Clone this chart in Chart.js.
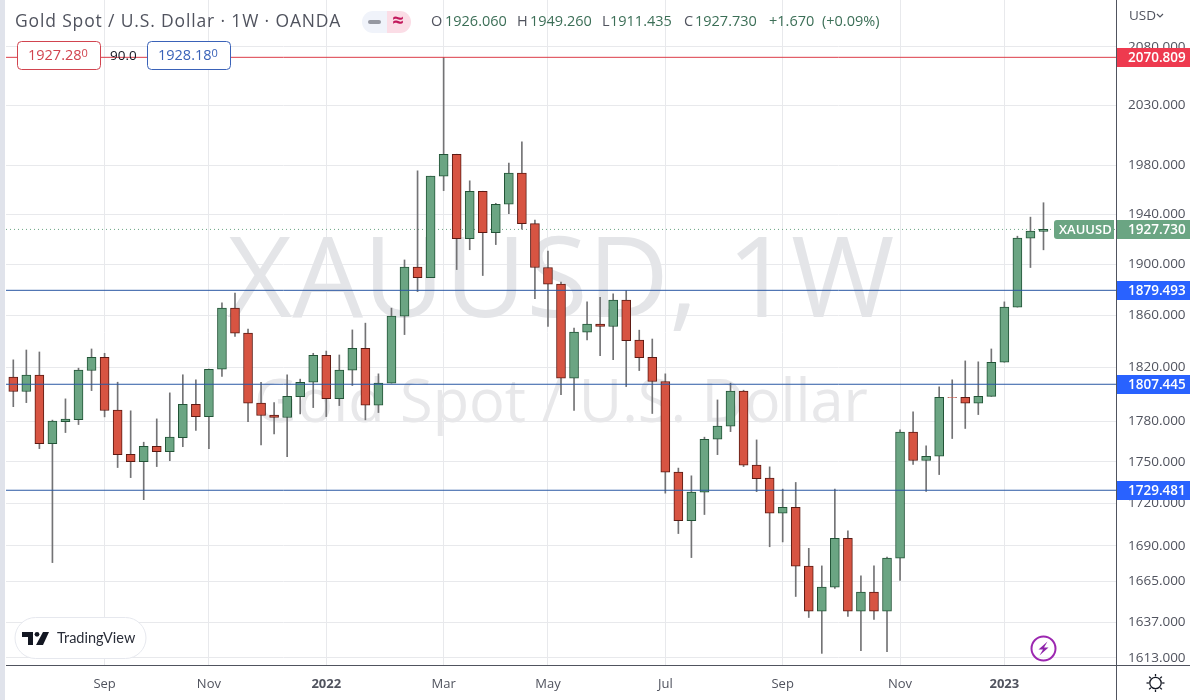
<!DOCTYPE html>
<html>
<head>
<meta charset="utf-8">
<title>Gold Spot / U.S. Dollar</title>
<script src="https://cdn.jsdelivr.net/npm/chart.js@4/dist/chart.umd.min.js"></script>
<style>
  html, body { margin: 0; padding: 0; background: #fff; }
  canvas { display: block; }
</style>
</head>
<body>
<canvas id="chart" width="1190" height="700"></canvas>
<script>
// weekly candles (last one is the printed OHLC)
const opens = [
  1812.8, 1802.0, 1814.3, 1763.4, 1779.6, 1781.1, 1817.8, 1827.9, 1788.1, 1755.6,
  1750.2, 1761.4, 1757.5, 1767.8, 1792.5, 1783.3, 1818.8, 1865.6, 1846.3, 1793.3,
  1784.4, 1782.6, 1798.2, 1809.0, 1829.4, 1796.7, 1818.1, 1834.7, 1791.8, 1808.3,
  1859.4, 1897.7, 1889.5, 1970.9, 1989.0, 1920.4, 1958.6, 1925.2, 1948.0, 1973.4,
  1932.4, 1897.4, 1884.3, 1812.1, 1847.1, 1853.2, 1851.4, 1871.8, 1840.9, 1827.9,
  1809.5, 1742.6, 1707.8, 1728.1, 1766.6, 1776.2, 1802.3, 1747.6, 1738.2, 1713.1,
  1717.3, 1675.7, 1644.6, 1661.2, 1695.3, 1644.7, 1657.7, 1644.7, 1681.3, 1771.8,
  1751.0, 1754.1, 1797.7, 1797.7, 1793.3, 1798.4, 1824.1, 1866.4, 1920.7, 1926.06
];
const highs = [
  1825.9, 1833.4, 1831.9, 1780.7, 1796.5, 1819.6, 1834.2, 1830.9, 1809.0, 1787.6,
  1764.4, 1781.6, 1801.0, 1814.6, 1810.8, 1819.0, 1869.7, 1877.3, 1849.4, 1809.0,
  1793.7, 1814.6, 1811.3, 1830.9, 1832.6, 1829.6, 1848.8, 1854.0, 1815.3, 1865.6,
  1903.4, 1975.3, 1970.9, 2070.809, 1989.0, 1967.1, 1958.6, 1948.8, 1981.6, 1999.2,
  1935.2, 1910.5, 1885.9, 1850.2, 1870.5, 1874.1, 1876.7, 1879.3, 1848.6, 1841.8,
  1815.3, 1745.5, 1739.9, 1768.1, 1795.7, 1808.3, 1803.0, 1766.1, 1746.4, 1730.3,
  1735.1, 1688.2, 1675.9, 1730.4, 1700.5, 1669.0, 1675.9, 1682.0, 1773.5, 1786.8,
  1761.7, 1805.5, 1810.8, 1825.1, 1824.4, 1834.2, 1870.5, 1922.3, 1937.6, 1949.26
];
const lows = [
  1790.7, 1793.7, 1759.7, 1678.2, 1771.5, 1777.4, 1802.7, 1783.1, 1745.9, 1738.6,
  1722.7, 1746.6, 1750.9, 1761.1, 1773.0, 1759.7, 1813.3, 1843.7, 1779.6, 1762.4,
  1770.5, 1753.8, 1785.3, 1790.0, 1783.3, 1791.5, 1806.5, 1780.9, 1786.3, 1808.3,
  1845.2, 1878.5, 1889.5, 1959.1, 1895.8, 1911.5, 1891.1, 1915.6, 1940.5, 1927.9,
  1873.0, 1851.4, 1799.7, 1787.8, 1841.1, 1829.1, 1826.1, 1805.7, 1817.8, 1785.6,
  1727.4, 1698.6, 1681.7, 1712.1, 1755.3, 1772.2, 1746.6, 1728.5, 1689.3, 1692.7,
  1654.7, 1640.3, 1616.0, 1660.2, 1641.0, 1617.8, 1639.0, 1617.2, 1665.8, 1748.1,
  1728.7, 1740.8, 1767.1, 1774.5, 1784.8, 1798.4, 1824.1, 1866.4, 1897.4, 1911.435
];
const closes = [
  1802.0, 1814.3, 1763.3, 1779.9, 1781.4, 1818.1, 1827.9, 1787.8, 1755.3, 1750.2,
  1761.4, 1757.5, 1768.1, 1792.5, 1783.3, 1818.8, 1865.6, 1846.3, 1793.3, 1784.1,
  1782.6, 1798.4, 1809.0, 1829.4, 1796.7, 1818.1, 1834.7, 1791.8, 1808.3, 1859.4,
  1897.7, 1889.5, 1970.9, 1989.0, 1920.4, 1958.6, 1925.2, 1948.0, 1973.4, 1932.4,
  1897.4, 1884.3, 1812.1, 1847.1, 1853.2, 1851.4, 1871.8, 1840.6, 1827.6, 1809.5,
  1742.6, 1707.8, 1728.1, 1766.6, 1776.2, 1802.3, 1747.6, 1737.9, 1713.1, 1717.3,
  1675.7, 1644.6, 1661.2, 1695.3, 1644.7, 1657.7, 1644.7, 1681.3, 1771.8, 1751.0,
  1754.1, 1797.7, 1797.5, 1793.3, 1798.4, 1824.1, 1866.4, 1920.7, 1926.3, 1927.73
];

const priceTicks = [2080, 2030, 1980, 1940, 1900, 1860, 1820, 1780, 1750, 1720, 1690, 1665, 1637, 1613];
const timeTickWeeks = [7, 15, 24, 33, 41, 50, 59, 68, 76];
const timeTickLabels = ['Sep', 'Nov', '2022', 'Mar', 'May', 'Jul', 'Sep', 'Nov', '2023'];

const blueLevels = [1879.493, 1807.445, 1729.481];
const redLevel = 2070.809;
const lastPrice = 1927.73;

const GREEN = '#6ba583', RED = '#d75442';
const GREEN_EDGE = '#225437', RED_EDGE = '#5b1a13';
const BLUE_LINE = '#2a58a4', RED_LINE = '#dc3c48';
const TAG_BLUE = '#2962ff', TAG_RED = '#ee3a4f';
const TEXT = '#50535e';
const FONT = '"Open Sans", sans-serif';

const xMin = -0.56, xMax = 84.56;
const isUp = opens.map((o, i) => closes[i] >= o);

function levelLine(value, color, dash) {
    return {
        type: 'line',
        data: [{ x: xMin, y: value }, { x: xMax, y: value }],
        borderColor: color,
        borderWidth: 1,
        borderDash: dash || [],
        pointRadius: 0,
        order: dash ? 5 : 1
    };
}

function text(ctx, str, x, y, font, color, align) {
    ctx.font = font;
    ctx.fillStyle = color;
    ctx.textAlign = align || 'left';
    ctx.textBaseline = 'middle';
    ctx.fillText(str, x, y);
}

// big grey watermark sits under the candles
const watermark = {
    id: 'watermark',
    beforeDatasetsDraw(chart) {
        const ctx = chart.ctx;
        ctx.save();
        ctx.textAlign = 'center';
        ctx.textBaseline = 'alphabetic';
        ctx.font = '112px ' + FONT;
        ctx.fillStyle = '#e4e5e8';
        ctx.fillText('XAUUSD, 1W', 561, 317);
        ctx.font = '59.5px ' + FONT;
        ctx.fillStyle = '#e8e8ea';
        ctx.fillText('Gold Spot / U.S. Dollar', 561, 422);
        ctx.restore();
    }
};

function priceTag(ctx, y, label, color) {
    ctx.fillStyle = color;
    ctx.fillRect(1117, Math.round(y) - 9, 73, 19);
    text(ctx, label, 1128, y + 0.5, '600 13.5px ' + FONT, '#fff');
}

function drawPill(ctx, x, y, w, h, r, fill, stroke) {
    ctx.beginPath();
    ctx.roundRect(x, y, w, h, r);
    ctx.fillStyle = fill;
    ctx.fill();
    if (stroke) {
        ctx.strokeStyle = stroke;
        ctx.lineWidth = 1;
        ctx.stroke();
    }
}

function valueBox(ctx, x, w, price, color) {
    drawPill(ctx, x + 0.5, 41.5, w, 28, 4, '#fff', color);
    const main = price.slice(0, -1);
    text(ctx, main, x + 11, 56, '14.5px ' + FONT, color);
    const mw = ctx.measureText(main).width;
    text(ctx, price.slice(-1), x + 11 + mw, 54, '11px ' + FONT, color);
}

function drawHeader(ctx) {
    ctx.letterSpacing = '0.85px';
    text(ctx, 'Gold Spot / U.S. Dollar \u00b7 1W \u00b7 OANDA', 15, 22, '17.5px ' + FONT, TEXT);
    ctx.letterSpacing = '0px';

    // status pill
    ctx.fillStyle = '#f0f3fa';
    ctx.beginPath();
    ctx.roundRect(362, 11, 25, 22, [11, 0, 0, 11]);
    ctx.fill();
    ctx.fillStyle = '#fbdde6';
    ctx.beginPath();
    ctx.roundRect(387, 11, 24, 22, [0, 11, 11, 0]);
    ctx.fill();
    ctx.fillStyle = '#9598a1';
    ctx.beginPath();
    ctx.roundRect(368, 20, 13, 4, 2);
    ctx.fill();
    text(ctx, '\u2248', 398, 21, '700 20px ' + FONT, '#c2185b', 'center');

    // OHLC strip
    const val = '#3c6f57';
    const f = '14.5px ' + FONT;
    text(ctx, 'O', 431, 22, f, TEXT);
    text(ctx, '1926.060', 445, 22, f, val);
    text(ctx, 'H', 517, 22, f, TEXT);
    text(ctx, '1949.260', 530, 22, f, val);
    text(ctx, 'L', 602, 22, f, TEXT);
    text(ctx, '1911.435', 610, 22, f, val);
    text(ctx, 'C', 684, 22, f, TEXT);
    text(ctx, '1927.730', 695, 22, f, val);
    text(ctx, '+1.670', 769, 22, f, val);
    text(ctx, '(+0.09%)', 822, 22, f, val);

    valueBox(ctx, 17, 83, '1927.280', '#d1444f');
    text(ctx, '90.0', 110, 56, '13.5px ' + FONT, '#131722');
    valueBox(ctx, 147, 83, '1928.180', '#3a62b8');
}

function drawLogo(ctx) {
    drawPill(ctx, 15, 617.5, 131, 41, 20.5, '#fff', '#e6e8ee');
    ctx.fillStyle = '#131722';
    ctx.fillRect(22, 632, 11, 5);
    ctx.fillRect(28, 632, 5, 13);
    ctx.beginPath();
    ctx.arc(37, 634.3, 2.4, 0, Math.PI * 2);
    ctx.fill();
    ctx.beginPath();
    ctx.moveTo(43, 632);
    ctx.lineTo(49, 632);
    ctx.lineTo(43, 645);
    ctx.lineTo(36, 645);
    ctx.closePath();
    ctx.fill();
    text(ctx, 'TradingView', 57, 638.5, '14.5px Lato, ' + FONT, '#2a2e39');
}

function drawIcons(ctx) {
    // lightning badge
    ctx.strokeStyle = '#9c27b0';
    ctx.lineWidth = 2;
    ctx.beginPath();
    ctx.arc(1043.5, 648.5, 12, 0, Math.PI * 2);
    ctx.stroke();
    ctx.fillStyle = '#8e24aa';
    ctx.beginPath();
    ctx.moveTo(1047.5, 641.5);
    ctx.lineTo(1038.5, 649.5);
    ctx.lineTo(1043, 649.5);
    ctx.lineTo(1039.5, 655.5);
    ctx.lineTo(1048.5, 647.5);
    ctx.lineTo(1044, 647.5);
    ctx.closePath();
    ctx.fill();

    // settings sun
    ctx.strokeStyle = '#131722';
    ctx.lineWidth = 1.3;
    ctx.beginPath();
    ctx.arc(1155.5, 683, 5.7, 0, Math.PI * 2);
    ctx.stroke();
    for (let k = 0; k < 8; k++) {
        const a = k * Math.PI / 4;
        ctx.beginPath();
        ctx.moveTo(1155.5 + Math.cos(a) * 6.6, 683 + Math.sin(a) * 6.6);
        ctx.lineTo(1155.5 + Math.cos(a) * 9, 683 + Math.sin(a) * 9);
        ctx.stroke();
    }
}

// everything that lies on top of the plot: tags, header, logo, frame
const overlay = {
    id: 'overlay',
    afterDraw(chart) {
        const ctx = chart.ctx;
        const y = chart.scales.y;
        ctx.save();

        ctx.fillStyle = '#e0e3eb';
        ctx.fillRect(0, 0, 5, 700);

        ctx.fillStyle = TEXT;
        ctx.fillRect(1116, 0, 1, 700);
        ctx.fillRect(6, 665, 1184, 1);

        priceTag(ctx, y.getPixelForValue(redLevel), redLevel.toFixed(3), TAG_RED);
        blueLevels.forEach(v => priceTag(ctx, y.getPixelForValue(v), v.toFixed(3), TAG_BLUE));

        const lastY = y.getPixelForValue(lastPrice);
        priceTag(ctx, lastY, lastPrice.toFixed(3), GREEN);
        drawPill(ctx, 1054, Math.round(lastY) - 9, 60, 19, [3, 0, 0, 3], GREEN);
        text(ctx, 'XAUUSD', 1059, lastY + 0.5, '600 13px ' + FONT, '#fff');

        text(ctx, 'USD', 1129, 16, '13.5px ' + FONT, TEXT);
        ctx.strokeStyle = TEXT;
        ctx.lineWidth = 1.2;
        ctx.beginPath();
        ctx.moveTo(1157, 14);
        ctx.lineTo(1160, 17);
        ctx.lineTo(1163, 14);
        ctx.stroke();

        drawHeader(ctx);
        drawLogo(ctx);
        drawIcons(ctx);
        ctx.restore();
    }
};

new Chart(document.getElementById('chart').getContext('2d'), {
    type: 'bar',
    data: {
        datasets: [
            levelLine(redLevel, RED_LINE),
            levelLine(blueLevels[0], BLUE_LINE),
            levelLine(blueLevels[1], BLUE_LINE),
            levelLine(blueLevels[2], BLUE_LINE),
            levelLine(lastPrice, GREEN, [1, 3]),
            {
                label: 'Body',
                data: opens.map((o, i) => ({ x: i, y: [o, closes[i]] })),
                backgroundColor: isUp.map(u => u ? GREEN : RED),
                borderColor: isUp.map(u => u ? GREEN_EDGE : RED_EDGE),
                borderWidth: 1,
                borderSkipped: false,
                barThickness: 9,
                grouped: false,
                order: 2
            },
            {
                label: 'Wick',
                data: lows.map((l, i) => ({ x: i, y: [l, highs[i]] })),
                backgroundColor: '#737375',
                borderWidth: 0,
                barThickness: 1,
                grouped: false,
                order: 3
            }
        ]
    },
    options: {
        responsive: false,
        animation: false,
        devicePixelRatio: 1,
        layout: { padding: { left: 6 } },
        plugins: {
            legend: { display: false },
            tooltip: { enabled: false }
        },
        scales: {
            x: {
                type: 'linear',
                offset: false,
                min: xMin,
                max: xMax,
                afterBuildTicks(axis) {
                    axis.ticks = timeTickWeeks.map(v => ({ value: v }));
                },
                afterFit(axis) {
                    axis.height = 35;
                    axis.paddingLeft = axis.paddingRight = 0;
                },
                // bar charts default to offset grid lines, these sit on the ticks
                grid: { color: '#e8e9ec', drawTicks: false, offset: false },
                border: { display: false },
                ticks: {
                    autoSkip: false,
                    maxRotation: 0,
                    padding: 11,
                    color: TEXT,
                    font: c => {
                        const lbl = c.tick ? timeTickLabels[timeTickWeeks.indexOf(c.tick.value)] : 'Sep';
                        return { family: FONT, size: 13, weight: /^\d/.test(lbl) ? '700' : '400' };
                    },
                    callback: v => timeTickLabels[timeTickWeeks.indexOf(v)]
                }
            },
            y: {
                type: 'logarithmic',
                position: 'right',
                min: 1608.2,
                max: 2120.8,
                afterBuildTicks(axis) {
                    axis.ticks = priceTicks.map(v => ({ value: v }));
                },
                afterFit(axis) {
                    axis.width = 74;
                    axis.paddingTop = axis.paddingBottom = 0;
                },
                grid: { color: '#e8e9ec', drawTicks: false },
                border: { display: false },
                ticks: {
                    autoSkip: false,
                    padding: 12,
                    color: TEXT,
                    font: { family: FONT, size: 13.5 },
                    callback: v => v.toFixed(3)
                }
            }
        }
    },
    plugins: [watermark, overlay]
});
</script>
</body>
</html>
